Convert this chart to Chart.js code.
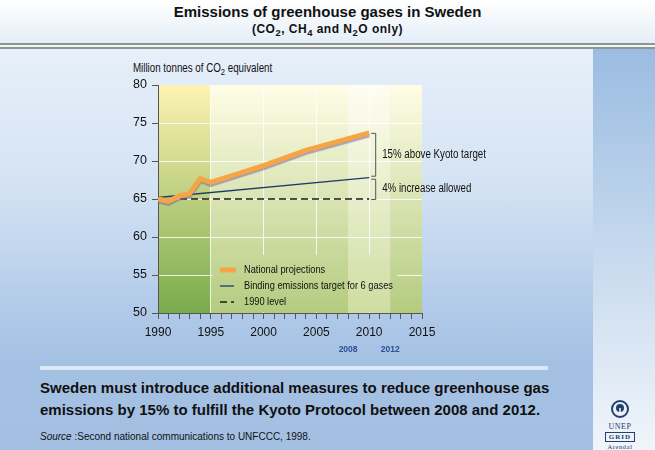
<!DOCTYPE html>
<html>
<head>
<meta charset="utf-8">
<script src="https://cdn.jsdelivr.net/npm/chart.js@4.4.1/dist/chart.umd.min.js"></script>
<style>
  body { margin: 0; }
  #page { position: relative; width: 655px; height: 450px; overflow: hidden; font-family: "Liberation Sans", Arial, sans-serif; color: #111; }
  #header { position: absolute; left: 0; top: 0; width: 655px; height: 43px; background: linear-gradient(#ffffff, #e4eef8); }
  #rule { position: absolute; left: 0; top: 43px; width: 655px; height: 6px;
          background: linear-gradient(#8f9792 0 2px, #f2f5f3 2px 4px, #8f9792 4px 6px); }
  #panel { position: absolute; left: 0; top: 49px; width: 593px; height: 401px;
           background: linear-gradient(#e7f0fa 0%, #d3e2f3 35%, #b0c9e8 66%, #a4c0e3 78%, #a3c0e2 100%); }
  #side { position: absolute; left: 593px; top: 49px; width: 62px; height: 401px; background: linear-gradient(#9bbce1, #f0f5fa); }
  #stripe { position: absolute; left: 40px; top: 366px; width: 508px; height: 4px; background: #dce7f4; }
  #title { position: absolute; left: 0; top: 3px; width: 655px; text-align: center; font-weight: bold; font-size: 15px; line-height: 18px; }
  #subtitle { position: absolute; left: 0; top: 22px; width: 655px; text-align: center; font-weight: bold; font-size: 12px; line-height: 14px; letter-spacing: 0.5px; }
  sub { font-size: 78%; vertical-align: -0.3em; line-height: 0; }
  #ytitle { position: absolute; left: 133px; top: 61px; font-size: 12.5px; line-height: 15px; white-space: nowrap;
            transform: scaleX(0.78); transform-origin: 0 0; }
  #chart { position: absolute; left: 0; top: 50px; }
  #message { position: absolute; left: 40px; top: 377px; font-weight: bold; font-size: 15px; line-height: 22px; }
  #source { position: absolute; left: 40px; top: 431px; font-size: 10px; line-height: 12px; }
  #logo { position: absolute; left: 603px; top: 400px; width: 34px; text-align: center; font-family: "Liberation Serif", serif; color: #25406e; }
  #logo .u { font-size: 8px; line-height: 9px; letter-spacing: 0.5px; }
  #logo .g { font-size: 7px; line-height: 8px; letter-spacing: 1px; border: 1px solid #25406e; margin: 1px 2px; font-weight: bold; }
  #logo .a { font-size: 6.5px; line-height: 8px; letter-spacing: 0.6px; }
</style>
</head>
<body>
<div id="page">
  <div id="header"></div>
  <div id="rule"></div>
  <div id="panel"></div>
  <div id="side"></div>
  <div id="stripe"></div>
  <div id="title">Emissions of greenhouse gases in Sweden</div>
  <div id="subtitle">(CO<sub>2</sub>, CH<sub>4</sub> and N<sub>2</sub>O only)</div>
  <div id="ytitle">Million tonnes of CO<sub>2</sub> equivalent</div>
  <canvas id="chart" width="593" height="320"></canvas>
  <div id="message">Sweden must introduce additional measures to reduce greenhouse gas<br>emissions by 15% to fulfill the Kyoto Protocol between 2008 and 2012.</div>
  <div id="source"><i>Source</i> :Second national communications to UNFCCC, 1998.</div>
  <div id="logo">
    <svg width="18" height="18" viewBox="0 0 18 18">
      <circle cx="9" cy="9" r="8" fill="none" stroke="#25406e" stroke-width="2"/>
      <circle cx="9" cy="8" r="4" fill="#25406e"/>
      <rect x="8.3" y="8" width="1.4" height="6" fill="#fff"/>
    </svg>
    <div class="u">UNEP</div>
    <div class="g">GRID</div>
    <div class="a">Arendal</div>
  </div>
</div>
<script>
// national projections (CO2, CH4, N2O), Mt CO2 eq
var projYears = [1990, 1991, 1992, 1993, 1994, 1995, 2000, 2004, 2010];
var projValues = [65.0, 64.7, 65.4, 65.7, 67.7, 67.2, 69.4, 71.4, 73.7];

// binding target (+4%) and 1990 level
var targetYears = [1990, 2010];
var targetValues = [65.2, 67.8];
var baseYears = [1990, 2010];
var baseValues = [65.0, 65.0];

var bandYears = [1990, 1995, 2008, 2012, 2015];
var periodYears = [2008, 2012];

var labels = ['National projections', 'Binding emissions target for 6 gases', '1990 level'];
var bracketLabels = ['15% above Kyoto target', '4% increase allowed'];

var sans = '"Liberation Sans", Arial, sans-serif';

function pairs(xs, ys) {
  return xs.map(function (x, i) { return { x: x, y: ys[i] }; });
}

// squeezed text, the original uses a narrow face
function narrowText(ctx, text, x, y, size, squeeze) {
  ctx.save();
  ctx.translate(x, y);
  ctx.scale(squeeze, 1);
  ctx.font = size + 'px ' + sans;
  ctx.fillText(text, 0, 0);
  ctx.restore();
}

// band colours, top and bottom of the plot
var bandColors = [
  ['#fff3b3', '#79ab4b'],
  ['#fffde7', '#b4cb7f'],
  ['#fffef2', '#cfdca1'],
  ['#fffde7', '#b4cb7f']
];

function fillBands(chart) {
  var ctx = chart.ctx, a = chart.chartArea, x = chart.scales.x;
  for (var i = 0; i < bandYears.length - 1; i++) {
    var x0 = x.getPixelForValue(bandYears[i]);
    var x1 = x.getPixelForValue(bandYears[i + 1]);
    var g = ctx.createLinearGradient(0, a.top, 0, a.bottom);
    g.addColorStop(0, bandColors[i][0]);
    g.addColorStop(1, bandColors[i][1]);
    ctx.fillStyle = g;
    ctx.fillRect(x0, a.top, x1 - x0, a.bottom - a.top);
  }
}

var bandsPlugin = {
  id: 'bands',
  beforeDraw: function (chart) {
    chart.ctx.save();
    fillBands(chart);
    chart.ctx.restore();
  }
};

var legendPlugin = {
  id: 'boxLegend',
  beforeDatasetsDraw: function (chart) {
    var ctx = chart.ctx, a = chart.chartArea;
    var bx = a.left + 55, by = a.bottom - 58, bw = 184, bh = 57;
    ctx.save();
    ctx.beginPath();
    ctx.rect(bx, by, bw, bh);
    ctx.clip();
    fillBands(chart);
    ctx.restore();

    ctx.save();
    ctx.textBaseline = 'middle';
    ctx.fillStyle = '#111';
    chart.data.datasets.forEach(function (ds, i) {
      var ry = a.bottom - 43 + i * 16;
      var sx = a.left + 62;
      ctx.beginPath();
      ctx.strokeStyle = ds.borderColor;
      ctx.lineWidth = ds.borderWidth;
      ctx.setLineDash(ds.borderDash || []);
      ctx.moveTo(sx, ry);
      ctx.lineTo(sx + (i === 0 ? 16 : 14), ry);
      ctx.stroke();
      ctx.setLineDash([]);
      narrowText(ctx, labels[i], a.left + 86, ry, 11, 0.84);
    });
    ctx.restore();
  }
};

var shadowPlugin = {
  id: 'shadow',
  beforeDatasetDraw: function (chart, args) {
    chart.ctx.save();
    if (args.index === 0) {
      chart.ctx.shadowColor = 'rgba(120, 105, 170, 0.6)';
      chart.ctx.shadowOffsetX = 0;
      chart.ctx.shadowOffsetY = 2;
      chart.ctx.shadowBlur = 1;
    }
  },
  afterDatasetDraw: function (chart) {
    chart.ctx.restore();
  }
};

var bracketPlugin = {
  id: 'brackets',
  afterDatasetsDraw: function (chart) {
    var ctx = chart.ctx, x = chart.scales.x, y = chart.scales.y;
    var end = projYears[projYears.length - 1];
    var xb = x.getPixelForValue(end) + 6;
    var y1 = y.getPixelForValue(projValues[projValues.length - 1]);
    var y2 = y.getPixelForValue(targetValues[targetValues.length - 1]);
    var y3 = y.getPixelForValue(baseValues[baseValues.length - 1]);
    var spans = [[y1, y2 - 2], [y2 + 1, y3]];
    ctx.save();
    ctx.strokeStyle = '#555';
    ctx.lineWidth = 1;
    ctx.fillStyle = '#111';
    ctx.textBaseline = 'middle';
    spans.forEach(function (s, i) {
      ctx.beginPath();
      ctx.moveTo(xb - 4, s[0] + 0.5);
      ctx.lineTo(xb + 0.5, s[0] + 0.5);
      ctx.lineTo(xb + 0.5, s[1] + 0.5);
      ctx.lineTo(xb - 4, s[1] + 0.5);
      ctx.stroke();
      narrowText(ctx, bracketLabels[i], xb + 7, (s[0] + s[1]) / 2, 12, 0.81);
    });
    ctx.restore();
  }
};

function gridFive(lo, hi) {
  return function (c) {
    var v = c.tick ? c.tick.value : null;
    return (v !== null && v % 5 === 0 && v > lo && v < hi) ? 'rgba(255,255,255,0.8)' : 'rgba(0,0,0,0)';
  };
}

new Chart(document.getElementById('chart'), {
  type: 'line',
  data: {
    datasets: [
      { label: labels[0], data: pairs(projYears, projValues), borderColor: '#f5a544', borderWidth: 5,
        borderJoinStyle: 'round', pointRadius: 0, tension: 0 },
      { label: labels[1], data: pairs(targetYears, targetValues), borderColor: '#1d3a6c', borderWidth: 1.3,
        pointRadius: 0, tension: 0 },
      { label: labels[2], data: pairs(baseYears, baseValues), borderColor: '#1a1a1a', borderWidth: 1.3,
        borderDash: [7, 4], pointRadius: 0, tension: 0 }
    ]
  },
  options: {
    responsive: false,
    animation: false,
    events: [],
    layout: { padding: { left: 118, right: 171, top: 35, bottom: 7 } },
    plugins: { legend: { display: false }, tooltip: { enabled: false } },
    scales: {
      x: {
        type: 'linear', min: 1990, max: 2015, weight: 0,
        afterFit: function (s) { s.height = 30; },
        border: { display: true, color: '#555', width: 1 },
        grid: { color: gridFive(1990, 2015), tickColor: '#555', tickLength: 6, lineWidth: 1 },
        ticks: { stepSize: 1, autoSkip: false, maxRotation: 0, minRotation: 0, padding: 6,
                 color: '#111', font: { family: sans, size: 12 },
                 callback: function (v) { return v % 5 === 0 ? String(v) : ''; } }
      },
      x2: {
        type: 'linear', position: 'bottom', min: 1990, max: 2015, weight: 1,
        afterFit: function (s) { s.height = 20; },
        afterBuildTicks: function (s) { s.ticks = periodYears.map(function (v) { return { value: v }; }); },
        border: { display: false },
        grid: { display: false, drawTicks: false },
        ticks: { autoSkip: false, maxRotation: 0, padding: 2, color: '#2a4f96',
                 font: { family: sans, size: 8.5, weight: 'bold' },
                 callback: function (v) { return String(v); } }
      },
      y: {
        min: 50, max: 80,
        afterFit: function (s) { s.width = 40; },
        border: { display: true, color: '#555', width: 1 },
        grid: { color: gridFive(50, 80), tickColor: '#555', tickLength: 6, lineWidth: 1 },
        ticks: { stepSize: 5, padding: 5, color: '#111', font: { family: sans, size: 12.5 } }
      }
    }
  },
  plugins: [bandsPlugin, legendPlugin, shadowPlugin, bracketPlugin]
});
</script>
</body>
</html>
